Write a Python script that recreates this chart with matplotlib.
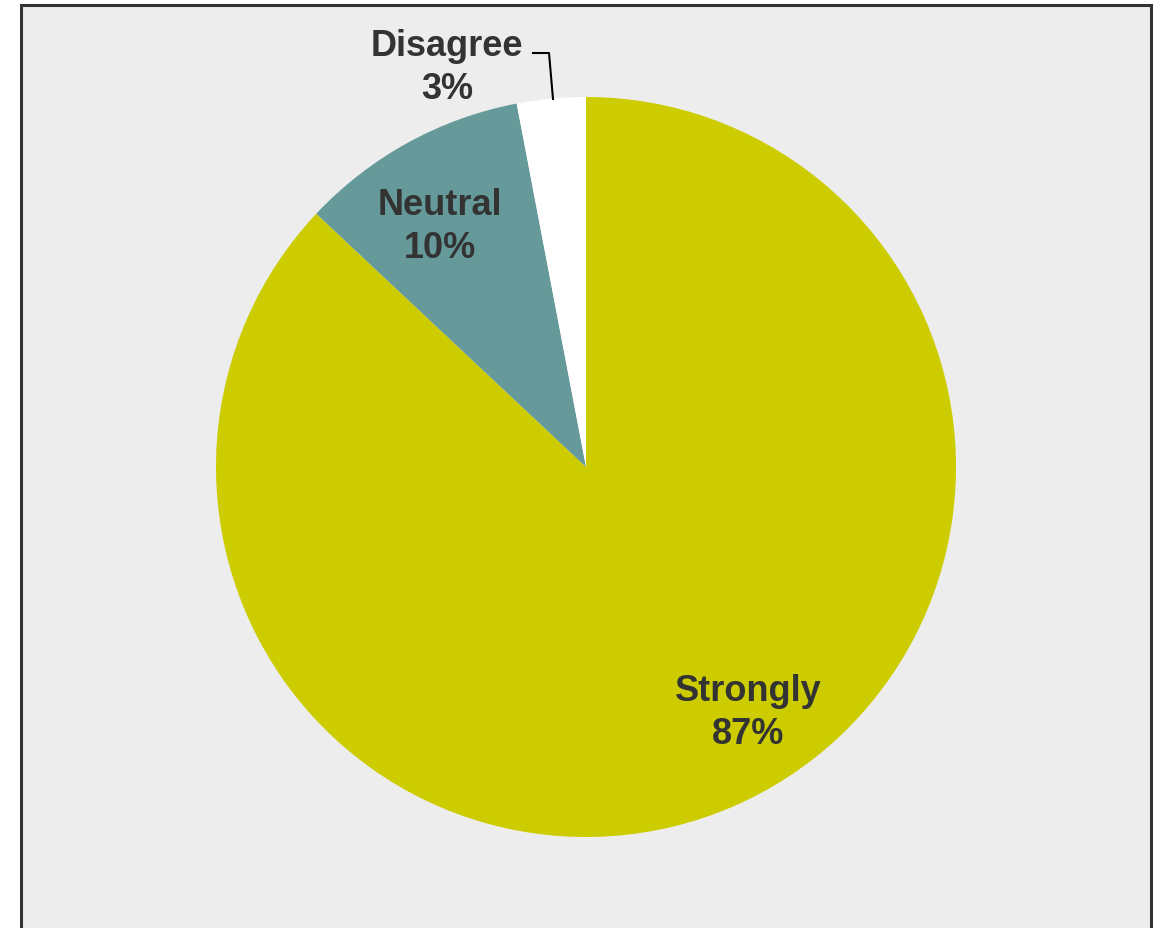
import matplotlib
matplotlib.use("Agg")
import matplotlib.pyplot as plt
from matplotlib.patches import Rectangle

# data
categories = ["Strongly", "Neutral", "Disagree"]
values = [87, 10, 3]
colors = ["#CCCC00", "#669999", "#FFFFFF"]

W, H = 1157, 929
plt.rcParams['font.family'] = ['Liberation Sans', 'DejaVu Sans']

fig = plt.figure(figsize=(W / 100, H / 100), dpi=100)
fig.patch.set_facecolor("white")
ax = fig.add_axes([0, 0, 1, 1])
ax.set_xlim(0, W)
ax.set_ylim(0, H)
ax.axis("off")

# background panel + border (bottom edge is cut off)
ax.add_patch(Rectangle((21, -10), 1151 - 21, H - 6 + 10, facecolor="#EDEDED",
                       edgecolor="none", zorder=0))
ax.plot([21, 21, 1151, 1151], [-10, H - 6, H - 6, -10], color="#333333",
        lw=2.2, solid_joinstyle="miter", zorder=5)

# pie
cx, cy, r = 586, H - 468, 370
wedges, _ = ax.pie(values, colors=colors, startangle=90, counterclock=False,
                   center=(cx, cy), radius=r, wedgeprops=dict(linewidth=0))
ax.set_xlim(0, W)
ax.set_ylim(0, H)
ax.set_aspect("equal")

# labels
txt = dict(fontsize=26, fontweight="bold", color="#333333", ha="center",
           va="center", linespacing=1.26)
pos = {"Strongly": (748, 713), "Neutral": (440, 227), "Disagree": (447, 68)}
for name, v in zip(categories, values):
    x, y = pos[name]
    ax.text(x, H - y, f"{name}\n{v}%", zorder=6, **txt)

# leader line for Disagree
ax.plot([533, 549, 553], [H - 54, H - 54, H - 100], color="black", lw=1.5,
        zorder=6)

fig.savefig("out.png", dpi=100, facecolor=fig.get_facecolor())
